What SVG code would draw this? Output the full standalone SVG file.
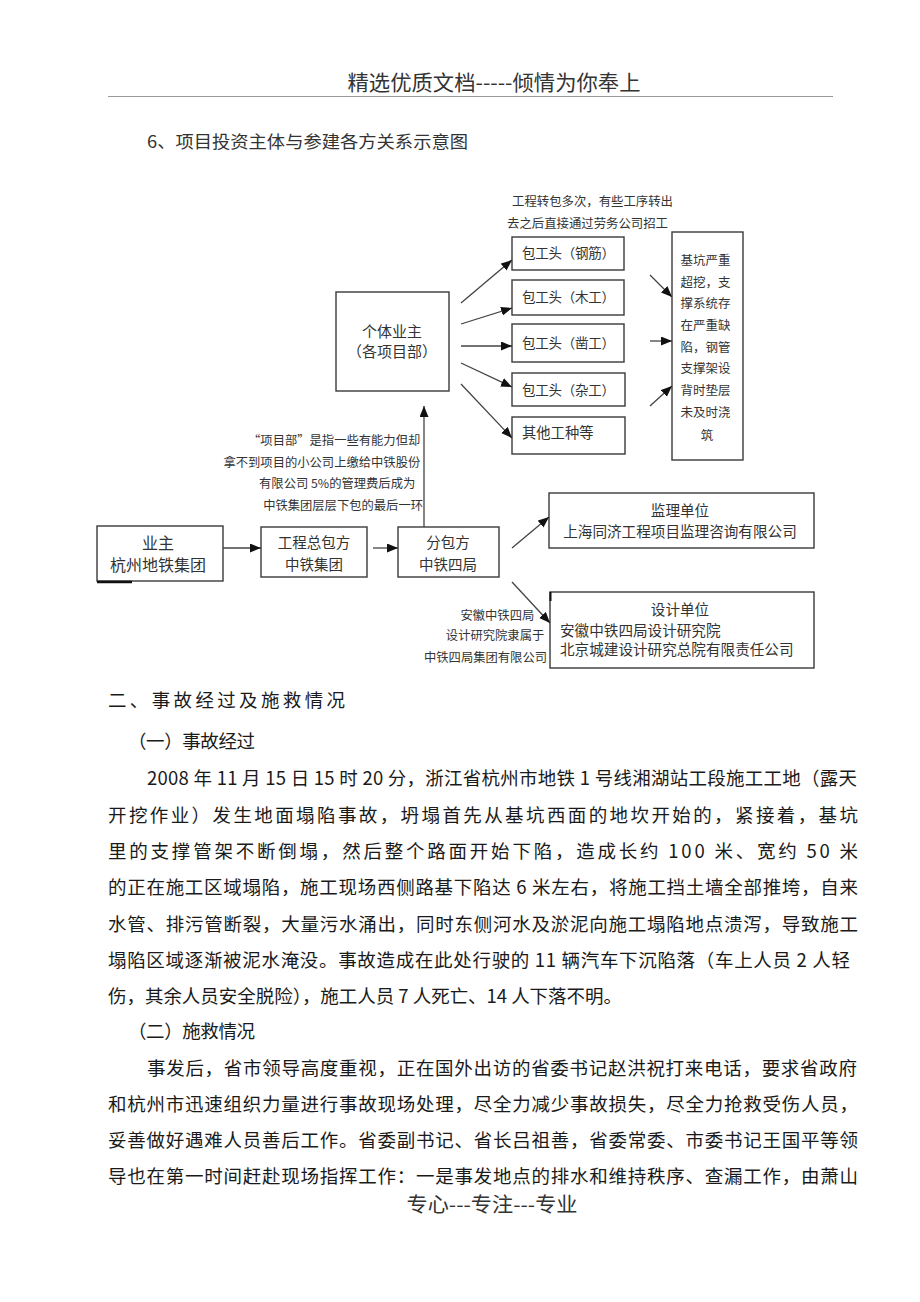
<svg xmlns="http://www.w3.org/2000/svg" width="920" height="1302" viewBox="0 0 920 1302">
<style>
.t{font-family:"Noto Sans CJK SC","Noto Sans",sans-serif;fill:#333}
.b{font-family:"Noto Sans CJK SC","Noto Sans",sans-serif;fill:#1a1a1a;font-size:18.5px}
.box{fill:#fff;stroke:#3a3a3a;stroke-width:1.4}
.c{text-anchor:middle}
.e{text-anchor:end}
#connectors line{stroke:#444;stroke-width:1.3;marker-end:url(#ah)}
</style>
<defs>
<marker id="ah" markerUnits="userSpaceOnUse" markerWidth="12" markerHeight="10" refX="11" refY="4.5" orient="auto">
<path d="M0,0 L11,4.5 L0,9 z" fill="#111"/>
</marker>
</defs>
<rect width="920" height="1302" fill="#fff"/>
<g id="header">
<text class="t c" x="494" y="90" font-size="21" textLength="293" lengthAdjust="spacingAndGlyphs">精选优质文档-----倾情为你奉上</text>
<line x1="108" y1="96.5" x2="833" y2="96.5" stroke="#999" stroke-width="1"/>
<text class="t" x="147" y="148" font-size="17.5" textLength="321" lengthAdjust="spacingAndGlyphs">6、项目投资主体与参建各方关系示意图</text>
</g>
<g id="n-geti">
<rect class="box" x="336" y="292" width="113" height="99"/>
<text class="t c" x="392" y="337" font-size="15">个体业主</text>
<text class="t c" x="392" y="357" font-size="15">（各项目部）</text>
</g>
<g id="note-top">
<text class="t" x="512" y="206" font-size="12.4" textLength="161">工程转包多次，有些工序转出</text>
<text class="t" x="507" y="228" font-size="12.4" textLength="161">去之后直接通过劳务公司招工</text>
</g>
<g id="n-gangjin">
<rect class="box" x="512" y="237" width="112" height="33"/>
<text class="t" x="522" y="258" font-size="13.5" textLength="93">包工头（钢筋）</text>
</g>
<g id="n-mugong">
<rect class="box" x="512" y="280" width="112" height="35"/>
<text class="t" x="522" y="302" font-size="13.5" textLength="93">包工头（木工）</text>
</g>
<g id="n-zaogong">
<rect class="box" x="512" y="324" width="112" height="38"/>
<text class="t" x="522" y="348" font-size="13.5" textLength="93">包工头（凿工）</text>
</g>
<g id="n-zagong">
<rect class="box" x="512" y="373" width="113" height="33"/>
<text class="t" x="522" y="395" font-size="13.5" textLength="93">包工头（杂工）</text>
</g>
<g id="n-qita">
<rect class="box" x="512" y="417" width="113" height="37"/>
<text class="t" x="522" y="438" font-size="14.3">其他工种等</text>
</g>
<g id="n-jikeng">
<rect class="box" x="672" y="232" width="71" height="228"/>
<text class="t c" font-size="12.5">
<tspan x="707" y="265">基坑严重</tspan>
<tspan x="707" y="287">超挖，支</tspan>
<tspan x="707" y="308">撑系统存</tspan>
<tspan x="707" y="330">在严重缺</tspan>
<tspan x="707" y="352">陷，钢管</tspan>
<tspan x="707" y="373">支撑架设</tspan>
<tspan x="707" y="395">背时垫层</tspan>
<tspan x="707" y="417">未及时浇</tspan>
<tspan x="707" y="440">筑</tspan>
</text>
</g>
<g id="note-xiangmubu">
<text class="t e" font-size="12.3">
<tspan x="423" y="445">“项目部”是指一些有能力但却</tspan>
<tspan x="423" y="467">拿不到项目的小公司上缴给中铁股份</tspan>
<tspan x="418" y="488">有限公司 5%的管理费后成为</tspan>
<tspan x="423" y="510">中铁集团层层下包的最后一环</tspan>
</text>
</g>
<g id="n-yezhu">
<rect class="box" x="97" y="526" width="126" height="55"/>
<text class="t c" x="158" y="549" font-size="16">业主</text>
<text class="t c" x="158" y="571" font-size="16">杭州地铁集团</text>
<line x1="97" y1="582" x2="132" y2="582" stroke="#111" stroke-width="2.5"/>
</g>
<g id="n-zongbao">
<rect class="box" x="261" y="527" width="106" height="50"/>
<text class="t c" x="314" y="548" font-size="14.5">工程总包方</text>
<text class="t c" x="314" y="570" font-size="14.5">中铁集团</text>
</g>
<g id="n-fenbao">
<rect class="box" x="398" y="527" width="101" height="50"/>
<text class="t c" x="448" y="548" font-size="14.5">分包方</text>
<text class="t c" x="448" y="570" font-size="14.5">中铁四局</text>
</g>
<g id="n-jianli">
<rect class="box" x="549" y="493" width="265" height="55"/>
<text class="t c" x="680" y="516" font-size="14.6">监理单位</text>
<text class="t c" x="680" y="537" font-size="14.6">上海同济工程项目监理咨询有限公司</text>
</g>
<g id="n-sheji">
<rect class="box" x="550" y="592" width="264" height="76"/>
<line x1="550.5" y1="592" x2="550.5" y2="601" stroke="#111" stroke-width="2"/>
<text class="t c" x="680" y="615" font-size="14.6">设计单位</text>
<text class="t" x="560" y="636" font-size="14.6">安徽中铁四局设计研究院</text>
<text class="t" x="560" y="655" font-size="14.6">北京城建设计研究总院有限责任公司</text>
</g>
<g id="note-sheji">
<text class="t e" font-size="12.3">
<tspan x="537" y="620">安徽中铁四局</tspan>
<tspan x="547" y="640">设计研究院隶属于</tspan>
<tspan x="547" y="662">中铁四局集团有限公司</tspan>
</text>
</g>
<g id="connectors">
<line x1="461" y1="303" x2="512" y2="260"/>
<line x1="461" y1="324" x2="512" y2="308"/>
<line x1="461" y1="346" x2="512" y2="346"/>
<line x1="461" y1="363" x2="512" y2="387"/>
<line x1="461" y1="384" x2="512" y2="438"/>
<line x1="650" y1="275" x2="672" y2="297"/>
<line x1="650" y1="341" x2="672" y2="341"/>
<line x1="650" y1="406" x2="672" y2="386"/>
<line x1="424" y1="527" x2="424" y2="406"/>
<line x1="223" y1="548" x2="261" y2="548"/>
<line x1="373" y1="548" x2="398" y2="548"/>
<line x1="512" y1="548" x2="549" y2="517"/>
<line x1="512" y1="582" x2="550" y2="623"/>
</g>
<g id="body">
<text class="b" x="108" y="707" font-size="21" textLength="237">二、事故经过及施救情况</text>
<text class="b" x="128" y="748" font-size="18" textLength="127">（一）事故经过</text>
<text class="b" x="147" y="784.5" textLength="710">2008 年 11 月 15 日 15 时 20 分，浙江省杭州市地铁 1 号线湘湖站工段施工工地（露天</text>
<text class="b" x="108" y="821.5" textLength="750">开挖作业）发生地面塌陷事故，坍塌首先从基坑西面的地坎开始的，紧接着，基坑</text>
<text class="b" x="108" y="857.5" textLength="750">里的支撑管架不断倒塌，然后整个路面开始下陷，造成长约 100 米、宽约 50 米</text>
<text class="b" x="108" y="894" textLength="750">的正在施工区域塌陷，施工现场西侧路基下陷达 6 米左右，将施工挡土墙全部推垮，自来</text>
<text class="b" x="108" y="930.5" textLength="750">水管、排污管断裂，大量污水涌出，同时东侧河水及淤泥向施工塌陷地点溃泻，导致施工</text>
<text class="b" x="108" y="966.5" textLength="742">塌陷区域逐渐被泥水淹没。事故造成在此处行驶的 11 辆汽车下沉陷落（车上人员 2 人轻</text>
<text class="b" x="108" y="1002.5" textLength="514">伤，其余人员安全脱险），施工人员 7 人死亡、14 人下落不明。</text>
<text class="b" x="128" y="1037.5" font-size="18" textLength="127">（二）施救情况</text>
<text class="b" x="147" y="1074.5" textLength="710">事发后，省市领导高度重视，正在国外出访的省委书记赵洪祝打来电话，要求省政府</text>
<text class="b" x="108" y="1110.5" textLength="750">和杭州市迅速组织力量进行事故现场处理，尽全力减少事故损失，尽全力抢救受伤人员，</text>
<text class="b" x="108" y="1146.5" textLength="750">妥善做好遇难人员善后工作。省委副书记、省长吕祖善，省委常委、市委书记王国平等领</text>
<text class="b" x="108" y="1182.5" textLength="750">导也在第一时间赶赴现场指挥工作：一是事发地点的排水和维持秩序、查漏工作，由萧山</text>
</g>
<g id="footer">
<text class="t c" x="492" y="1212" font-size="20" textLength="171" lengthAdjust="spacingAndGlyphs">专心---专注---专业</text>
</g>
</svg>
